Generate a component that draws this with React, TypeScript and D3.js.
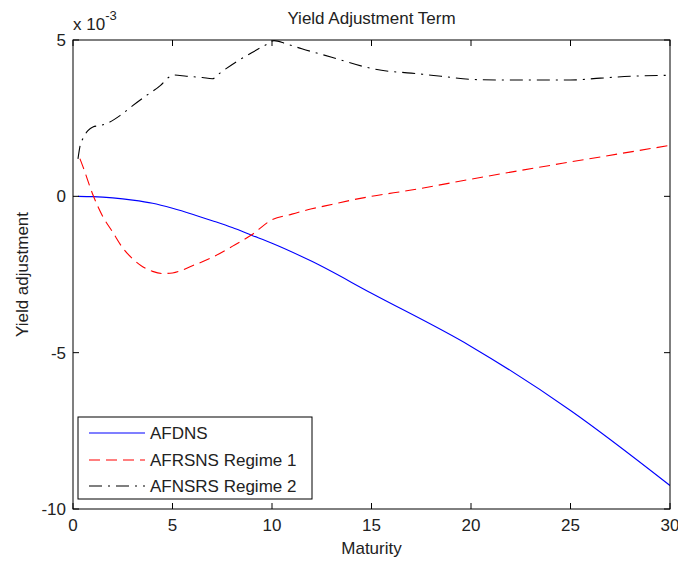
import React from "react";
import * as d3 from "d3";

const title = "Yield Adjustment Term";
const xLabel = "Maturity";
const yLabel = "Yield adjustment";
const xTicks = [0, 5, 10, 15, 20, 25, 30];
const yTicks = [-10, -5, 0, 5];

const afdnsMat = [0.25, 1, 2, 3, 4, 5, 6, 7, 8, 9, 10, 12, 15, 20, 25, 30];
const afdnsVal = [0, -0.01, -0.05, -0.12, -0.22, -0.38, -0.57, -0.78, -1.0, -1.25, -1.5, -2.08, -3.1, -4.8, -6.85, -9.25];

const regime1Mat = [0.35, 0.5, 1, 1.5, 2, 2.5, 3, 3.5, 4, 4.5, 5, 6, 7, 8, 9, 10, 11, 12, 13, 14, 15, 17, 20, 25, 30];
const regime1Val = [1.2, 0.95, 0.05, -0.65, -1.15, -1.65, -2.0, -2.25, -2.4, -2.47, -2.45, -2.22, -1.95, -1.6, -1.22, -0.75, -0.57, -0.4, -0.26, -0.12, 0, 0.2, 0.55, 1.1, 1.63];

const regime2Mat = [0.25, 0.35, 0.5, 0.75, 1, 1.4, 1.7, 2.4, 3, 3.7, 4.4, 4.8, 5.1, 5.7, 6.5, 7, 7.4, 8.2, 9, 9.7, 10.1, 10.7, 11.5, 13, 14.8, 15.5, 17, 18.5, 20, 21.5, 25, 26.5, 28, 30];
const regime2Val = [1.2, 1.6, 1.85, 2.1, 2.22, 2.27, 2.33, 2.6, 2.9, 3.23, 3.55, 3.8, 3.88, 3.84, 3.8, 3.76, 3.95, 4.3, 4.6, 4.85, 4.98, 4.88, 4.72, 4.45, 4.12, 4.03, 3.94, 3.84, 3.74, 3.72, 3.72, 3.78, 3.84, 3.87];

const seriesNames = ["AFDNS", "AFRSNS Regime 1", "AFNSRS Regime 2"];

export default function App() {
  const W = 678, H = 565;
  const L = 73, R = 670, T = 40, B = 509;
  const x = d3.scaleLinear().domain([0, 30]).range([L, R]);
  const y = d3.scaleLinear().domain([-10, 5]).range([B, T]);
  const line = d3
    .line<[number, number]>()
    .x((d) => x(d[0]))
    .y((d) => y(d[1]))
    .curve(d3.curveMonotoneX);
  const zip = (a: number[], b: number[]) => a.map((v, i) => [v, b[i]] as [number, number]);
  const series = [
    { name: seriesNames[0], data: zip(afdnsMat, afdnsVal), color: "#0000ff", dash: undefined as string | undefined },
    { name: seriesNames[1], data: zip(regime1Mat, regime1Val), color: "#ff0000", dash: "11,6" },
    { name: seriesNames[2], data: zip(regime2Mat, regime2Val), color: "#000000", dash: "13,6,2,6" },
  ];
  const font = "'Liberation Sans', Arial, sans-serif";
  const txt = "#222";
  const fs = 17;
  const tickLen = 6;

  const legX = 78, legY = 417, legW = 234, legH = 82;
  const legRows = [433, 460, 486];

  return (
    <svg width={W} height={H} style={{ position: "absolute", left: 0, top: 0 }} fontFamily={font}>
      <rect x={0} y={0} width={W} height={H} fill="#fff" />
      <text x={(L + R) / 2} y={24} textAnchor="middle" fontSize={fs} fill={txt}>{title}</text>

      <defs>
        <clipPath id="plotclip">
          <rect x={L} y={T - 1} width={R - L} height={B - T + 2} />
        </clipPath>
      </defs>
      <g clipPath="url(#plotclip)">
        {series.map((s) => (
          <path key={s.name} d={line(s.data) || ""} fill="none" stroke={s.color} strokeWidth={1.1} strokeDasharray={s.dash} />
        ))}
      </g>

      {/* axes box */}
      <rect x={L} y={T} width={R - L} height={B - T} fill="none" stroke="#000" strokeWidth={1} />
      {xTicks.map((t) => (
        <g key={"xt" + t}>
          <line x1={x(t)} x2={x(t)} y1={B} y2={B - tickLen} stroke="#000" />
          <line x1={x(t)} x2={x(t)} y1={T} y2={T + tickLen} stroke="#000" />
          <text x={x(t)} y={531} textAnchor="middle" fontSize={fs} fill={txt}>{t}</text>
        </g>
      ))}
      {yTicks.map((t) => (
        <g key={"yt" + t}>
          <line x1={L} x2={L + tickLen} y1={y(t)} y2={y(t)} stroke="#000" />
          <line x1={R} x2={R - tickLen} y1={y(t)} y2={y(t)} stroke="#000" />
          <text x={66} y={y(t)} dy="0.35em" textAnchor="end" fontSize={fs} fill={txt}>{t}</text>
        </g>
      ))}
      <text x={73} y={30} fontSize={fs} fill={txt}>
        x 10<tspan dy={-10} fontSize={13}>-3</tspan>
      </text>
      <text x={(L + R) / 2} y={554} textAnchor="middle" fontSize={fs} fill={txt}>{xLabel}</text>
      <text transform={`translate(28,${(T + B) / 2}) rotate(-90)`} textAnchor="middle" fontSize={fs} fill={txt}>{yLabel}</text>

      {/* legend */}
      <rect x={legX} y={legY} width={legW} height={legH} fill="#fff" stroke="#000" strokeWidth={1} />
      {series.map((s, i) => (
        <g key={"lg" + i}>
          <line x1={89} x2={145} y1={legRows[i]} y2={legRows[i]} stroke={s.color} strokeWidth={1.1} strokeDasharray={s.dash} />
          <text x={150} y={legRows[i]} dy="0.35em" fontSize={fs} fill={txt}>{s.name}</text>
        </g>
      ))}
    </svg>
  );
}
